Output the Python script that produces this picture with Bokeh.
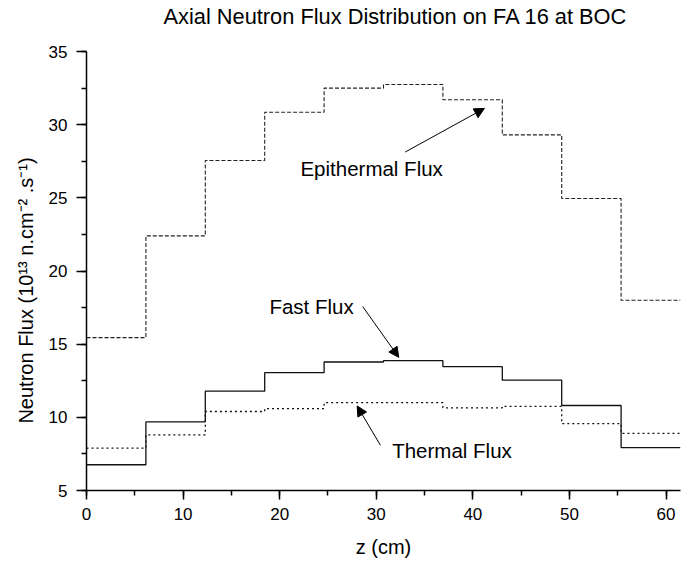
from bokeh.plotting import figure
from bokeh.models import SingleIntervalTicker, Arrow, NormalHead, Label, Title
from bokeh.embed import file_html
from bokeh.resources import INLINE

# ---- data ----
z_edges = [0.0, 6.15, 12.3, 18.45, 24.6, 30.75, 36.9, 43.05, 49.2, 55.35, 61.5]
epithermal = [15.45, 22.4, 27.55, 30.85, 32.5, 32.75, 31.7, 29.3, 24.95, 18.0]
fast = [6.76, 9.69, 11.79, 13.05, 13.78, 13.87, 13.46, 12.54, 10.81, 7.93]
thermal = [7.9, 8.8, 10.4, 10.6, 11.0, 11.0, 10.65, 10.75, 9.57, 8.9]
x_ticks = [0, 10, 20, 30, 40, 50, 60]
y_ticks = [5, 10, 15, 20, 25, 30, 35]
title_text = "Axial Neutron Flux Distribution on FA 16 at BOC"

FONT = "Liberation Sans"

p = figure(width=682, height=564, x_range=(0, 61.5), y_range=(5, 35),
           output_backend="svg", toolbar_location=None,
           min_border_left=86, min_border_right=2, min_border_top=10,
           min_border_bottom=74)
p.outline_line_color = None
p.xgrid.visible = False
p.ygrid.visible = False
p.background_fill_color = "white"
p.border_fill_color = "white"

# blank spacer between frame and title, then the title itself (outermost)
p.add_layout(Title(text="\u00a0", text_font_size="10px", text_color="white",
                   standoff=8.5), "above")
p.add_layout(Title(text=title_text, text_font=FONT, text_font_size="21.8px",
                   text_font_style="normal", text_color="black", align="left",
                   offset=77, standoff=2), "above")

p.xaxis.ticker = SingleIntervalTicker(interval=10, num_minor_ticks=2)
p.yaxis.ticker = SingleIntervalTicker(interval=5, num_minor_ticks=2)
for ax in (p.xaxis[0], p.yaxis[0]):
    ax.axis_line_width = 1.5
    ax.axis_line_color = "black"
    ax.major_tick_line_color = "black"
    ax.minor_tick_line_color = "black"
    ax.major_tick_line_width = 1.5
    ax.minor_tick_line_width = 1.5
    ax.major_tick_in = 0
    ax.minor_tick_in = 0
    ax.minor_tick_out = 5
    ax.major_label_text_font = FONT
    ax.major_label_text_font_size = "17px"
    ax.major_label_text_color = "black"
    ax.axis_label_text_font = FONT
    ax.axis_label_text_font_style = "normal"
    ax.axis_label_text_color = "black"

p.xaxis.major_tick_out = 9
p.yaxis.major_tick_out = 10

p.xaxis.axis_label = "z (cm)"
p.xaxis.axis_label_text_font_size = "20px"
p.xaxis.axis_label_standoff = 13
p.xaxis.major_label_standoff = 8

# trailing no-break spaces shift the centred label downwards as in the original
p.yaxis.axis_label = "Neutron Flux (10¹³ n.cm⁻² .s⁻¹)" + "\u00a0" * 7
p.yaxis.axis_label_text_font_size = "20px"
p.yaxis.axis_label_standoff = 9
p.yaxis.major_label_standoff = 9

def stepped(vals):
    return list(vals) + [vals[-1]]

p.step(x=z_edges, y=stepped(epithermal), mode="after", line_color="#222222",
       line_width=1.1, line_dash="4 2")
p.step(x=z_edges, y=stepped(fast), mode="after", line_color="#111111",
       line_width=1.3)
p.step(x=z_edges, y=stepped(thermal), mode="after", line_color="#111111",
       line_width=1.3, line_dash="2 3")

# annotations
labels = [("Epithermal Flux", 22.15, 27.0), ("Fast Flux", 18.94, 17.57),
          ("Thermal Flux", 31.65, 7.7)]
for txt, lx, ly in labels:
    p.add_layout(Label(x=lx, y=ly, text=txt, text_font=FONT,
                       text_font_size="20.5px", text_baseline="middle",
                       text_align="left", text_color="black"))

arrows = [(33.0, 28.13, 41.2, 31.11), (28.6, 17.57, 32.33, 14.1),
          (30.43, 8.09, 28.02, 10.78)]
for xs, ys, xe, ye in arrows:
    p.add_layout(Arrow(end=NormalHead(size=10, fill_color="black", line_color="black",
                                      line_width=1),
                       x_start=xs, y_start=ys, x_end=xe, y_end=ye,
                       line_color="black", line_width=1))

open("out.html", "w").write(file_html(p, INLINE))
